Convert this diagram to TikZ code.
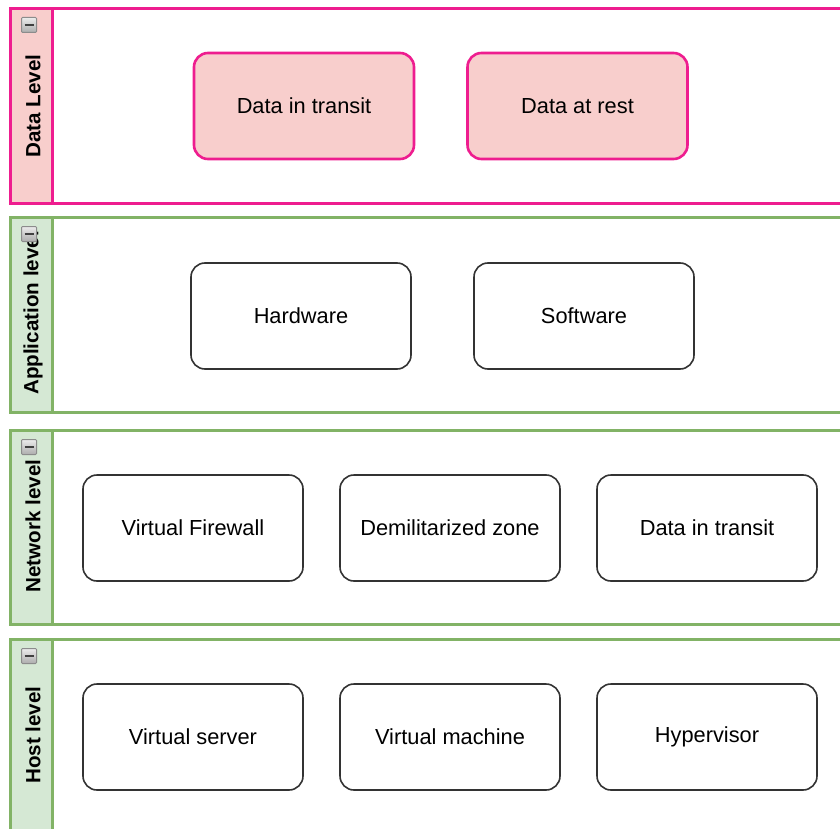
\documentclass[tikz,border=0pt]{standalone}
\usepackage{fontspec}
\setmainfont{Liberation Sans}
\definecolor{pinkline}{HTML}{EE1D8F}
\definecolor{pinkfill}{HTML}{F8CECC}
\definecolor{greenline}{HTML}{82B366}
\definecolor{greenfill}{HTML}{D5E8D4}
\definecolor{boxline}{HTML}{333333}
\tikzset{
  item/.style={draw=boxline, line width=1.6pt, rounded corners=14pt, fill=white,
    minimum width=220pt, minimum height=106pt, inner sep=0pt,
    font=\fontsize{21.8}{26}\selectfont},
  dataitem/.style={item, draw=pinkline, fill=pinkfill, line width=2.6pt},
  lanetitle/.style={rotate=90, inner sep=0pt, font=\bfseries\fontsize{20.6}{24}\selectfont},
  foldmark/.pic={
    \draw[gray!90, line width=1pt, top color=gray!15, bottom color=gray!65, rounded corners=1pt] (-7.5,-7.5) rectangle (7.5,7.5);
    \draw[line width=1.8pt, black!75] (-4.5,0) -- (4.5,0);
  }
}
\begin{document}
\begin{tikzpicture}[x=1pt, y=-1pt]
  \useasboundingbox (0,0) rectangle (840,829);
  \clip (0,0) rectangle (840,829);

  % swimlanes: header strip + body
  \foreach \top/\bot/\ln/\fl in {9/203/pinkline/pinkfill, 217/412/greenline/greenfill,
                                 430/624/greenline/greenfill, 639/833/greenline/greenfill} {
    \fill[\fl] (10,\top) rectangle (52,\bot);
    \draw[\ln, line width=3pt] (10,\top) rectangle (860,\bot);
    \draw[\ln, line width=3pt] (52,\top) -- (52,\bot);
  }

  % lane titles
  \node[lanetitle] (tdata) at (33,106) {Data Level};
  \node[lanetitle] (tapp)  at (33,313) {Application level};
  \node[lanetitle] (tnet)  at (33,526) {Network level};
  \node[lanetitle] (thost) at (33,735) {Host level};

  % collapse markers
  \pic at (29,25) {foldmark};
  \pic at (29,234) {foldmark};
  \pic at (29,447) {foldmark};
  \pic at (29,656) {foldmark};

  % data level
  \node[dataitem] (dtransit) at (304,106) {Data in transit};
  \node[dataitem] (drest)    at (577.5,106) {Data at rest};

  % application level
  \node[item] (hw) at (301,316) {Hardware};
  \node[item] (sw) at (584,316) {Software};

  % network level
  \node[item] (fw)  at (193,528) {Virtual Firewall};
  \node[item] (dmz) at (450,528) {Demilitarized zone};
  \node[item] (ntr) at (707,528) {Data in transit};

  % host level
  \node[item] (vs) at (193,737) {Virtual server};
  \node[item] (vm) at (450,737) {Virtual machine};
  \node[item] (hv) at (707,737) {Hypervisor};
\end{tikzpicture}
\end{document}
